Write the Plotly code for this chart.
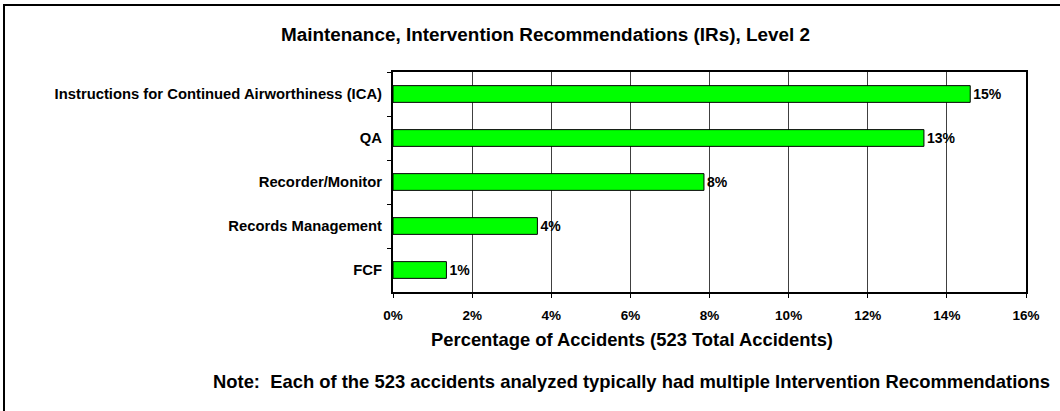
import plotly.graph_objects as go

categories = ["Instructions for Continued Airworthiness (ICA)", "QA", "Recorder/Monitor",
              "Records Management", "FCF"]
values = [14.59, 13.42, 7.86, 3.65, 1.35]
labels = ["15%", "13%", "8%", "4%", "1%"]
x_ticks = [0, 2, 4, 6, 8, 10, 12, 14, 16]
x_ticktext = [f"{t}%" for t in x_ticks]

W, H = 1060, 411
L, R, T, B = 393, 1026, 72, 292
pw, ph = R - L, B - T

def px(x):
    return (x - L) / pw

def py(y):
    return (B - y) / ph

FONT = "Arial, Liberation Sans, sans-serif"

fig = go.Figure(go.Bar(
    y=categories, x=values, orientation="h",
    marker=dict(color="#00FF00", line=dict(color="black", width=1)),
    width=0.38,
    text=labels, textposition="outside", cliponaxis=False,
    textfont=dict(family=FONT, size=14, color="black", weight="bold"),
))

fig.update_layout(
    width=W, height=H,
    margin=dict(l=L, r=W - R, t=T, b=H - B, pad=0),
    paper_bgcolor="white", plot_bgcolor="white",
    showlegend=False,
    font=dict(family=FONT, color="black"),
)
fig.update_xaxes(
    range=[0, 16], tickvals=x_ticks, ticktext=x_ticktext,
    showgrid=True, gridcolor="#404040", gridwidth=1,
    showline=True, linecolor="black", linewidth=2, mirror=True,
    ticks="outside", ticklen=4, tickcolor="black",
    ticklabelstandoff=6,
    tickfont=dict(family=FONT, size=13.5, color="black", weight="bold"),
    zeroline=False,
)
fig.update_yaxes(
    autorange="reversed", categoryorder="array", categoryarray=categories,
    showgrid=False,
    showline=True, linecolor="black", linewidth=2, mirror=True,
    ticks="outside", ticklen=4, tickcolor="black", tickson="boundaries",
    ticklabelstandoff=6,
    tickfont=dict(family=FONT, size=14.8, color="black", weight="bold"),
)

fig.add_annotation(text="Maintenance, Intervention Recommendations (IRs), Level 2",
                   xref="paper", yref="paper", x=px(545), y=py(34), showarrow=False,
                   xanchor="center", yanchor="middle",
                   font=dict(family=FONT, size=18.9, color="black", weight="bold"))
fig.add_annotation(text="Percentage of Accidents (523 Total Accidents)",
                   xref="paper", yref="paper", x=px(632), y=py(339), showarrow=False,
                   xanchor="center", yanchor="middle",
                   font=dict(family=FONT, size=18.4, color="black", weight="bold"))
fig.add_annotation(text="Note:  Each of the 523 accidents analyzed typically had multiple Intervention Recommendations",
                   xref="paper", yref="paper", x=px(631), y=py(381), showarrow=False,
                   xanchor="center", yanchor="middle",
                   font=dict(family=FONT, size=18.4, color="black", weight="bold"))

fig.add_shape(type="rect", xref="paper", yref="paper",
              x0=px(4), x1=px(1080), y0=py(430), y1=py(5),
              line=dict(color="black", width=2), fillcolor="rgba(0,0,0,0)", layer="below")

fig.write_html("out.html", config={"displayModeBar": False},
               post_script="document.body.style.margin='0';")
